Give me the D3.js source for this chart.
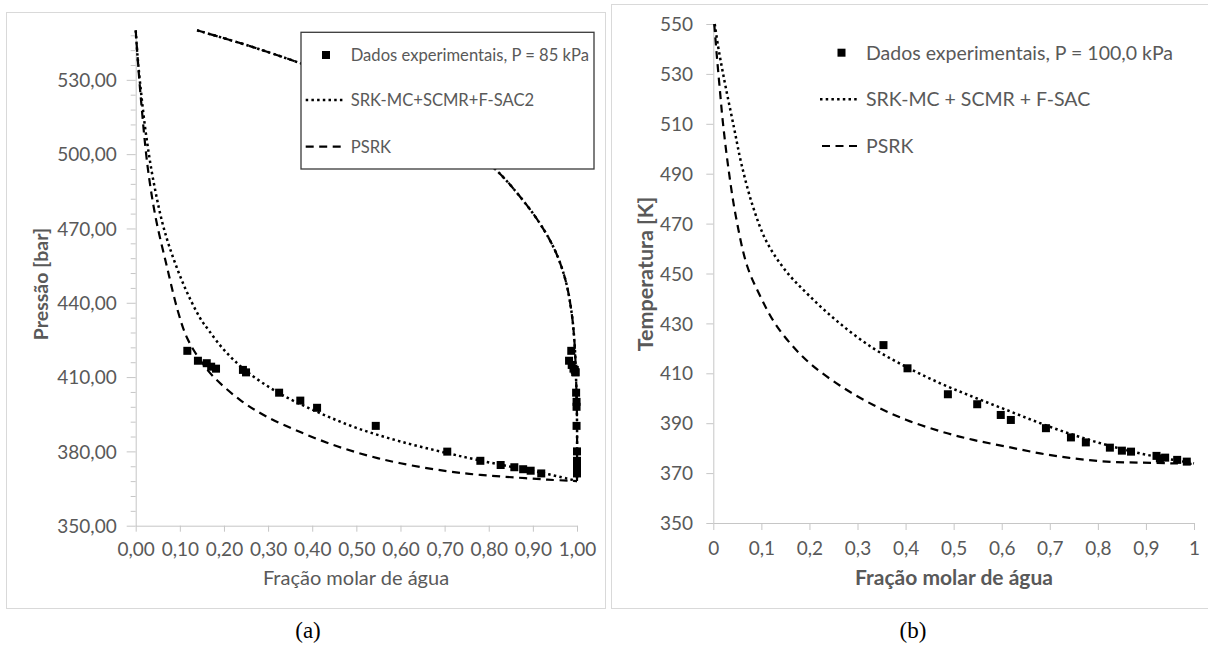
<!DOCTYPE html>
<html><head><meta charset="utf-8">
<script src="https://cdn.jsdelivr.net/npm/d3@7"></script>
<style>body{margin:0;background:#fff} svg{display:block}</style>
</head><body><svg id="c" width="1208" height="648"></svg>
<script>
// ---------- Chart (a): P-x-y ----------
const expA_liqX = [0.117,0.141,0.161,0.171,0.182,0.243,0.250,0.325,0.373,0.411,0.544,0.706,0.781,0.827,0.858,0.878,0.895,0.919];
const expA_liqP = [420.6,416.6,415.6,414.2,413.4,412.9,411.9,403.7,400.5,397.6,390.3,379.9,376.2,374.5,373.6,372.8,372.2,371.1];
const expA_vapY = [0.987,0.982,0.988,0.992,0.995,0.996,0.997,0.998,0.999,0.999,0.999,1.0,1.0,1.0,1.0,1.0,1.0,1.0];
const expA_vapP = [420.6,416.6,414.9,413.4,412.9,412.0,411.9,403.7,400.0,398.0,390.3,380.0,376.2,374.5,373.0,372.2,371.5,371.1];
const srkA_bubX = [0,0.004,0.01,0.023,0.041,0.067,0.107,0.146,0.165,0.2,0.25,0.325,0.411,0.5,0.6,0.706,0.781,0.85,0.919,0.978,1.0];
const srkA_bubP = [550,540,528.6,508.5,488.4,468,448,433.8,429,421,412.5,403.5,396,389.5,384,379.3,376.3,373.8,371.4,369.0,368.0];
const psrkA_bubX = [0,0.004,0.011,0.027,0.045,0.071,0.095,0.116,0.146,0.176,0.237,0.297,0.373,0.448,0.524,0.6,0.706,0.781,0.857,0.933,1.0];
const psrkA_bubP = [550,540,524,495,474.6,454.4,437,426,416.9,410.2,400.7,394,387.8,382.6,378.4,375.2,372,370.5,369.5,368.6,368.0];
const srkA_dewY = [0.139,0.259,0.372,0.486,0.6,0.713,0.817,0.872,0.917,0.951,0.974,0.987,0.994,0.998,1.0,1.0];
const srkA_dewP = [550,543.6,536.8,529.4,520.5,508.4,493.5,482.6,471.7,460.8,449.1,437,424.9,408.7,392.6,368.0];
const psrkA_dewY = [0.139,0.259,0.372,0.486,0.6,0.713,0.817,0.872,0.917,0.951,0.974,0.987,0.994,0.998,1.0,1.0];
const psrkA_dewP = [550,543.6,536.8,529.4,520.5,508.4,493.5,482.6,471.7,460.8,449.1,437,424.9,408.7,392.6,368.0];
const tickA_x = [0,0.1,0.2,0.3,0.4,0.5,0.6,0.7,0.8,0.9,1.0];
const tickA_xLabels = ["0,00","0,10","0,20","0,30","0,40","0,50","0,60","0,70","0,80","0,90","1,00"];
const tickA_y = [350,380,410,440,470,500,530];
const tickA_yLabels = ["350,00","380,00","410,00","440,00","470,00","500,00","530,00"];
const legendA = ["Dados experimentais, P = 85 kPa","SRK-MC+SCMR+F-SAC2","PSRK"];

// ---------- Chart (b): T-x ----------
const expB_x = [0.354,0.404,0.488,0.549,0.598,0.619,0.692,0.744,0.775,0.825,0.850,0.869,0.922,0.929,0.940,0.965,0.985];
const expB_T = [421.3,412.0,401.6,397.6,393.3,391.3,388.0,384.3,382.3,380.2,379.0,378.6,376.9,375.9,376.2,375.3,374.6];
const srkB_x = [0.003,0.01,0.017,0.026,0.043,0.059,0.083,0.111,0.151,0.2,0.26,0.333,0.402,0.472,0.541,0.61,0.68,0.749,0.818,0.888,0.957,1.0];
const srkB_T = [550,541,533.5,524.5,508.5,493.5,476.5,462.7,451,441,430.5,420,412.5,406,400.5,395.3,390,385.3,381.3,377.9,375.3,373.9];
const psrkB_x = [0.002,0.007,0.013,0.02,0.031,0.047,0.071,0.1,0.125,0.16,0.201,0.264,0.333,0.402,0.475,0.541,0.61,0.68,0.749,0.818,0.888,0.957,1.0];
const psrkB_T = [550,538,525,510.5,492.8,472.8,452.7,440,431,422,414,405,397.3,391.3,386.6,383.3,380.6,377.9,375.9,374.6,374.2,373.9,373.7];
const tickB_x = [0,0.1,0.2,0.3,0.4,0.5,0.6,0.7,0.8,0.9,1.0];
const tickB_xLabels = ["0","0,1","0,2","0,3","0,4","0,5","0,6","0,7","0,8","0,9","1"];
const tickB_y = [350,370,390,410,430,450,470,490,510,530,550];
const tickB_yLabels = ["350","370","390","410","430","450","470","490","510","530","550"];
const legendB = ["Dados experimentais, P = 100,0 kPa","SRK-MC + SCMR + F-SAC","PSRK"];

const titleAx = "Fração molar de água", titleAy = "Pressão [bar]";
const titleBx = "Fração molar de água", titleBy = "Temperatura [K]";

// ---------- drawing ----------
const svg = d3.select("#c");
const FONT = "Lato, 'Open Sans', sans-serif";
const SERIF = "'Liberation Serif', 'DejaVu Serif', serif";
const AXC = "#c6c6c6", TXC = "#595959";
const DOT = "2.5,3.2", DASH = "8,5.5";
const zip = (a, b) => a.map((v, i) => [v, b[i]]);

// panel frames
svg.append("rect").attr("x",6.5).attr("y",12.5).attr("width",599).attr("height",596).attr("fill","none").attr("stroke","#d9d9d9");
svg.append("rect").attr("x",611.5).attr("y",4.5).attr("width",610).attr("height",604).attr("fill","none").attr("stroke","#d9d9d9");

function styleAxis(g, fs) {
  g.attr("font-family", FONT).attr("font-size", fs);
  g.select(".domain").attr("stroke", AXC);
  g.selectAll(".tick line").attr("stroke", AXC);
  g.selectAll(".tick text").attr("fill", TXC);
}
function label(x, y, txt, size, opts = {}) {
  const t = svg.append("text").attr("dy", "0.35em").attr("fill", opts.fill || TXC)
    .style("font-family", opts.family || FONT).style("font-size", size + "px")
    .style("font-weight", opts.bold ? "bold" : "normal")
    .attr("text-anchor", opts.anchor || "start").text(txt);
  if (opts.rotate) t.attr("transform", `translate(${x},${y}) rotate(-90)`);
  else t.attr("x", x).attr("y", y);
  return t;
}

function lineGen(x, y) {
  return d3.line().x(d => x(d[0])).y(d => y(d[1])).curve(d3.curveCatmullRom.alpha(0.5));
}
function drawLine(x, y, data, dash, w) {
  svg.append("path").datum(data).attr("d", lineGen(x, y)).attr("fill","none")
    .attr("stroke","#000").attr("stroke-width", w).attr("stroke-dasharray", dash);
}
function drawPoints(x, y, data) {
  svg.append("g").selectAll("rect").data(data).join("rect")
    .attr("x", d => x(d[0]) - 4).attr("y", d => y(d[1]) - 4)
    .attr("width", 8).attr("height", 8).attr("fill", "#000");
}

// ===== Panel (a) =====
const xA = d3.scaleLinear().domain([0,1]).range([135.7, 577]);
const yA = d3.scaleLinear().domain([350,550]).range([525.7, 30.3]);

const gAx = svg.append("g").attr("transform", `translate(0,${yA(350)})`)
  .call(d3.axisBottom(xA).tickValues(tickA_x).tickFormat((d,i) => tickA_xLabels[i]).tickSize(6).tickSizeOuter(0));
styleAxis(gAx, 19);
gAx.selectAll(".tick text").attr("y", 549 - yA(350)).attr("dy", "0.35em");

const gAyMinor = svg.append("g").attr("transform", `translate(${xA(0)},0)`)
  .call(d3.axisLeft(yA).tickValues(d3.range(350, 551, 6).filter(v => (v - 350) % 30 !== 0)).tickFormat("").tickSize(5).tickSizeOuter(0));
gAyMinor.select(".domain").remove();
gAyMinor.selectAll(".tick line").attr("stroke", AXC);

const gAy = svg.append("g").attr("transform", `translate(${xA(0)},0)`)
  .call(d3.axisLeft(yA).tickValues(tickA_y).tickFormat((d,i) => tickA_yLabels[i]).tickSize(9).tickSizeOuter(0));
styleAxis(gAy, 19);
gAy.selectAll(".tick text").attr("x", -19).attr("dy", "0.35em");

drawLine(xA, yA, zip(srkA_bubX, srkA_bubP), DOT, 2.5);
drawLine(xA, yA, zip(psrkA_bubX, psrkA_bubP), DASH, 2.2);
drawLine(xA, yA, zip(srkA_dewY, srkA_dewP), DOT, 2.5);
drawLine(xA, yA, zip(psrkA_dewY, psrkA_dewP), DASH, 2.2);
drawPoints(xA, yA, zip(expA_liqX, expA_liqP));
drawPoints(xA, yA, zip(expA_vapY, expA_vapP));

label(356, 578, titleAx, 20, {anchor: "middle"});
label(41, 284, titleAy, 19.5, {anchor: "middle", bold: true, rotate: true});

// legend (a)
svg.append("rect").attr("x",301).attr("y",32.3).attr("width",293).attr("height",136.7)
  .attr("fill","#fff").attr("stroke","#3a3a3a").attr("stroke-width",1.3);
svg.append("rect").attr("x",322).attr("y",51).attr("width",8).attr("height",8).attr("fill","#000");
svg.append("line").attr("x1",305.7).attr("x2",342.7).attr("y1",100).attr("y2",100).attr("stroke","#000").attr("stroke-width",2.5).attr("stroke-dasharray",DOT);
svg.append("line").attr("x1",305.7).attr("x2",345).attr("y1",146.7).attr("y2",146.7).attr("stroke","#000").attr("stroke-width",2.2).attr("stroke-dasharray",DASH);
[55,100,146.7].forEach((yy,i) => label(350.7, yy, legendA[i], 16.6));

// ===== Panel (b) =====
const xB = d3.scaleLinear().domain([0,1]).range([713.3, 1194]);
const yB = d3.scaleLinear().domain([350,550]).range([523, 24]);

const gBx = svg.append("g").attr("transform", `translate(0,${yB(350)})`)
  .call(d3.axisBottom(xB).tickValues(tickB_x).tickFormat((d,i) => tickB_xLabels[i]).tickSize(7).tickSizeOuter(0));
styleAxis(gBx, 19);
gBx.selectAll(".tick text").attr("y", 548 - yB(350)).attr("dy", "0.35em");

const gBy = svg.append("g").attr("transform", `translate(${xB(0)},0)`)
  .call(d3.axisLeft(yB).tickValues(tickB_y).tickFormat((d,i) => tickB_yLabels[i]).tickSize(7).tickSizeOuter(0));
styleAxis(gBy, 19);
gBy.selectAll(".tick text").attr("x", -20.3).attr("dy", "0.35em");

drawLine(xB, yB, zip(srkB_x, srkB_T), DOT, 2.5);
drawLine(xB, yB, zip(psrkB_x, psrkB_T), DASH, 2.2);
drawPoints(xB, yB, zip(expB_x, expB_T));

label(954, 578, titleBx, 21, {anchor: "middle", bold: true});
label(645, 274, titleBy, 21.5, {anchor: "middle", bold: true, rotate: true});

// legend (b)
svg.append("rect").attr("x",837.5).attr("y",48.7).attr("width",8).attr("height",8).attr("fill","#000");
svg.append("line").attr("x1",820).attr("x2",857).attr("y1",99.3).attr("y2",99.3).attr("stroke","#000").attr("stroke-width",2.5).attr("stroke-dasharray",DOT);
svg.append("line").attr("x1",822).attr("x2",861).attr("y1",146).attr("y2",146).attr("stroke","#000").attr("stroke-width",2.2).attr("stroke-dasharray",DASH);
[52.7,99.3,146].forEach((yy,i) => label(866, yy, legendB[i], 19.5));

// captions
label(308, 630, "(a)", 23, {anchor: "middle", family: SERIF, fill: "#000"});
label(913, 630, "(b)", 23, {anchor: "middle", family: SERIF, fill: "#000"});
</script></body></html>
